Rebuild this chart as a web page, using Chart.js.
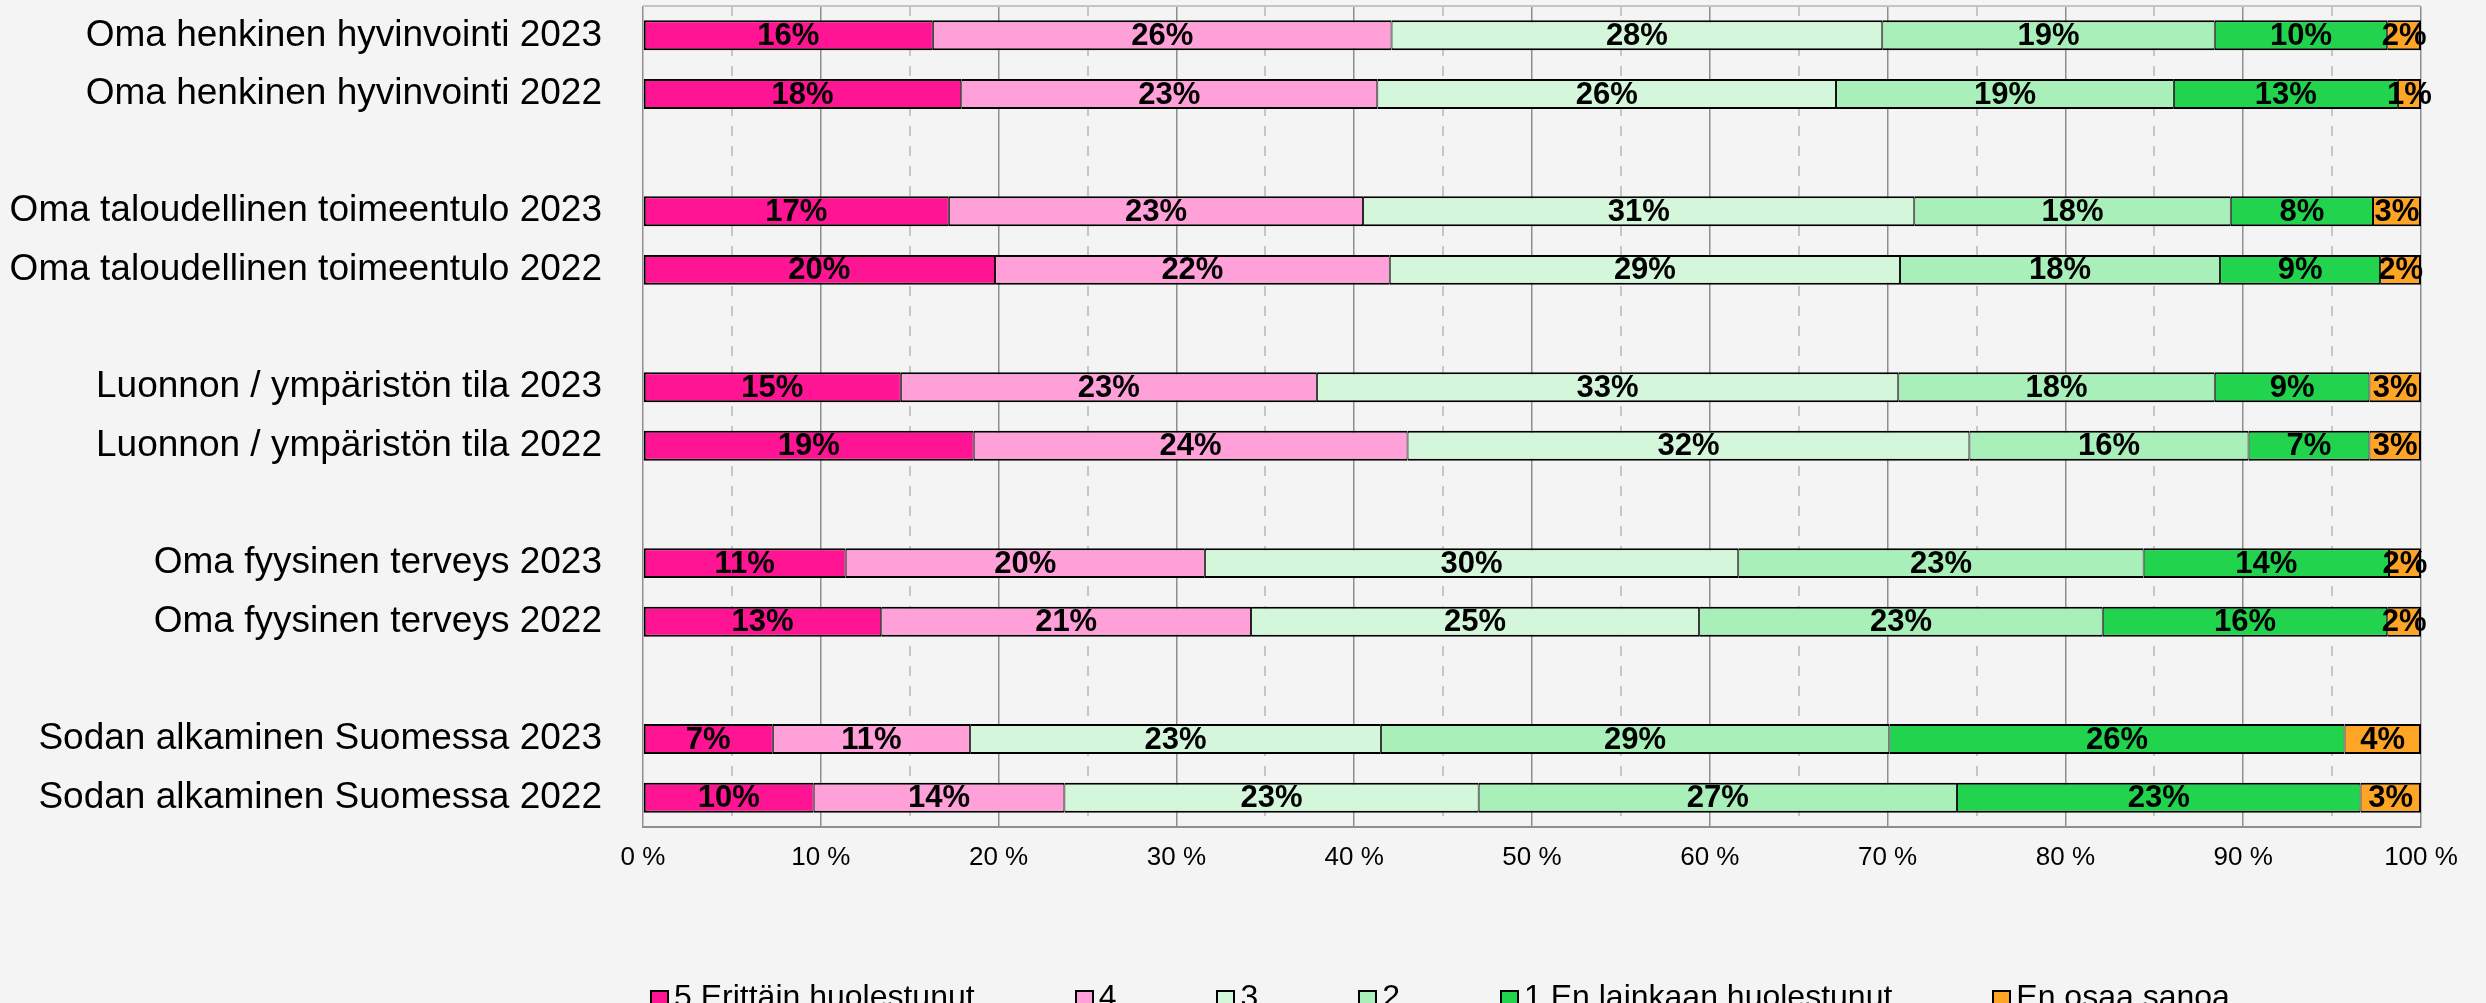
<!DOCTYPE html>
<html>
<head>
<meta charset="utf-8">
<script src="https://cdn.jsdelivr.net/npm/chart.js@4.4.0/dist/chart.umd.min.js"></script>
<style>
  html, body { margin: 0; padding: 0; background: #f4f4f4; overflow: hidden; }
  .wrap { position: relative; width: 2486px; height: 1003px; }
  #legend {
    position: absolute; left: 650px; top: 978px;
    display: flex; align-items: flex-start;
    font: 32px "Liberation Sans", Arial, sans-serif; line-height: 37px; color: #000;
    white-space: nowrap;
  }
  #legend .item { display: flex; align-items: flex-start; margin-right: 100px; }
  #legend .box { width: 15px; height: 15px; border: 2px solid #000; margin: 12px 5px 0 0; }
</style>
</head>
<body>
<div class="wrap">
  <canvas id="chart" width="2486" height="1003"></canvas>
  <div id="legend"></div>
</div>
<script>
const categories = [
  'Oma henkinen hyvinvointi 2023', 'Oma henkinen hyvinvointi 2022', '',
  'Oma taloudellinen toimeentulo 2023', 'Oma taloudellinen toimeentulo 2022', '',
  'Luonnon / ympäristön tila 2023', 'Luonnon / ympäristön tila 2022', '',
  'Oma fyysinen terveys 2023', 'Oma fyysinen terveys 2022', '',
  'Sodan alkaminen Suomessa 2023', 'Sodan alkaminen Suomessa 2022'
];
const seriesNames = ['5 Erittäin huolestunut', '4', '3', '2', '1 En lainkaan huolestunut', 'En osaa sanoa'];
const seriesColors = ['#ff1493', '#ffa0d8', '#d4f7dc', '#a8efb9', '#22d34e', '#ffa526'];

// shares in %, rows top to bottom, null = spacer row
const v5  = [16.3, 17.9, null, 17.2, 19.8, null, 14.5, 18.6, null, 11.4, 13.4, null, 7.3, 9.6];
const v4  = [25.8, 23.4, null, 23.3, 22.2, null, 23.4, 24.4, null, 20.2, 20.8, null, 11.1, 14.1];
const v3  = [27.6, 25.8, null, 31.0, 28.7, null, 32.7, 31.6, null, 30.0, 25.2, null, 23.1, 23.3];
const v2  = [18.7, 19.0, null, 17.8, 18.0, null, 17.8, 15.7, null, 22.8, 22.7, null, 28.6, 26.9];
const v1  = [9.7, 12.6, null, 8.0, 9.0, null, 8.7, 6.8, null, 13.8, 16.0, null, 25.6, 22.7];
const eos = [1.9, 1.3, null, 2.7, 2.3, null, 2.9, 2.9, null, 1.8, 1.9, null, 4.3, 3.4];

const xTicks = [0, 10, 20, 30, 40, 50, 60, 70, 80, 90, 100];

const FONT = '"Liberation Sans", Arial, sans-serif';
const allSeries = [v5, v4, v3, v2, v1, eos];

// percent labels in the middle of each segment
const barLabels = {
  id: 'barLabels',
  afterDatasetsDraw(chart) {
    const ctx = chart.ctx;
    ctx.save();
    ctx.font = 'bold 31px ' + FONT;
    ctx.fillStyle = '#000';
    ctx.textAlign = 'center';
    ctx.textBaseline = 'middle';
    chart.data.datasets.forEach((ds, i) => {
      chart.getDatasetMeta(i).data.forEach((bar, j) => {
        const v = ds.data[j];
        if (v == null) return;
        const p = bar.getCenterPoint();
        ctx.fillText(Math.round(v) + '%', p.x, p.y + 1);
      });
    });
    ctx.restore();
  }
};

// top line of the plot frame (lighter, like the original)
const frame = {
  id: 'frame',
  beforeDatasetsDraw(chart) {
    const {ctx, chartArea: a} = chart;
    ctx.save();
    ctx.lineWidth = 2;
    ctx.strokeStyle = '#c4c4c4';
    ctx.beginPath();
    ctx.moveTo(a.left, a.top);
    ctx.lineTo(a.right, a.top);
    ctx.stroke();
    ctx.restore();
  }
};

const chart = new Chart(document.getElementById('chart'), {
  type: 'bar',
  data: {
    labels: categories,
    datasets: allSeries.map((d, i) => ({
      label: seriesNames[i],
      data: d,
      backgroundColor: seriesColors[i],
      borderColor: '#000',
      borderWidth: { top: 2, bottom: 2, left: i === 0 ? 2 : 1, right: i === allSeries.length - 1 ? 2 : 1 },
      borderSkipped: false,
      barPercentage: 0.51,
      categoryPercentage: 1
    }))
  },
  options: {
    indexAxis: 'y',
    responsive: false,
    animation: false,
    devicePixelRatio: 1,
    layout: { padding: { top: 6, right: 65, left: 0, bottom: 0 } },
    plugins: {
      legend: { display: false },
      tooltip: { enabled: false }
    },
    scales: {
      x: {
        stacked: true,
        min: 0,
        max: 100,
        afterBuildTicks: (scale) => {
          const t = [];
          for (let v = 0; v <= 100; v += 5) t.push({ value: v });
          scale.ticks = t;
        },
        afterFit: (scale) => {
          scale.height = 176;
          scale.paddingLeft = 0;
          scale.paddingRight = 0;
        },
        grid: {
          drawTicks: false,
          color: (c) => (c.tick && c.tick.value % 10 === 0) ? '#8e8e8e' : '#c6c6c6',
          lineWidth: (c) => (c.tick && c.tick.value % 10 === 0) ? 1.5 : 2
        },
        border: {
          display: true,
          color: '#8e8e8e',
          width: 2,
          dash: (c) => (c.tick && c.tick.value % 10 !== 0) ? [10, 10] : []
        },
        ticks: {
          autoSkip: false,
          maxRotation: 0,
          padding: 15,
          color: '#000',
          font: { family: FONT, size: 26 },
          callback: (v) => xTicks.includes(v) ? v + ' %' : ''
        }
      },
      y: {
        stacked: true,
        afterFit: (scale) => {
          scale.width = 643;
          scale.paddingTop = 0;
          scale.paddingBottom = 0;
        },
        grid: { display: false },
        border: { display: false },
        ticks: {
          padding: 33,
          color: '#000',
          font: { family: FONT, size: 37 }
        }
      }
    }
  },
  plugins: [frame, barLabels]
});

// legend row under the axis, built from the datasets
const legend = document.getElementById('legend');
chart.data.datasets.forEach((ds) => {
  const item = document.createElement('div');
  item.className = 'item';
  const box = document.createElement('span');
  box.className = 'box';
  box.style.background = ds.backgroundColor;
  const txt = document.createElement('span');
  txt.textContent = ds.label;
  item.appendChild(box);
  item.appendChild(txt);
  legend.appendChild(item);
});
</script>
</body>
</html>
